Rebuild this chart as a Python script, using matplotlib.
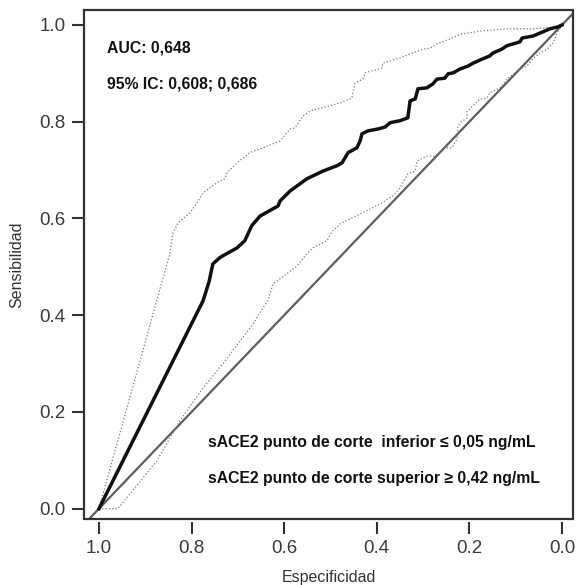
import matplotlib
matplotlib.use("Agg")
import matplotlib.pyplot as plt
from matplotlib.patches import Rectangle

plt.rcParams['font.family'] = ['Liberation Sans', 'DejaVu Sans']

# ROC curve (especificidad, sensibilidad)
roc_spec = [1.0, 0.775, 0.762, 0.754, 0.739, 0.732, 0.702, 0.685, 0.670, 0.652, 0.624, 0.613,
            0.609, 0.587, 0.551, 0.516, 0.486, 0.475, 0.462, 0.443, 0.436, 0.432, 0.419,
            0.397, 0.382, 0.371, 0.350, 0.333, 0.328, 0.317, 0.311, 0.292, 0.279, 0.270,
            0.253, 0.246, 0.235, 0.220, 0.203, 0.192, 0.171, 0.156, 0.149, 0.130, 0.119,
            0.091, 0.086, 0.063, 0.048, 0.026, 0.009, 0.0]
roc_sens = [0.0, 0.430, 0.470, 0.506, 0.519, 0.523, 0.539, 0.554, 0.585, 0.605, 0.620, 0.626,
            0.636, 0.657, 0.682, 0.698, 0.709, 0.715, 0.736, 0.746, 0.760, 0.775, 0.781,
            0.785, 0.789, 0.798, 0.802, 0.808, 0.843, 0.847, 0.868, 0.870, 0.878, 0.888,
            0.890, 0.899, 0.901, 0.909, 0.915, 0.921, 0.930, 0.936, 0.942, 0.950, 0.957,
            0.965, 0.973, 0.977, 0.983, 0.992, 0.996, 1.0]

# upper 95% CI
up_spec = [1.0, 0.847, 0.840, 0.829, 0.803, 0.788, 0.775, 0.745, 0.728, 0.724, 0.702,
           0.674, 0.646, 0.609, 0.587, 0.577, 0.559, 0.544, 0.501, 0.479, 0.454, 0.447,
           0.430, 0.425, 0.389, 0.387, 0.350, 0.328, 0.300, 0.285, 0.270, 0.242, 0.220,
           0.171, 0.119, 0.063, 0.009, 0.0]
up_sens = [0.0, 0.527, 0.570, 0.591, 0.612, 0.632, 0.653, 0.674, 0.682, 0.694, 0.715,
           0.736, 0.746, 0.760, 0.785, 0.787, 0.812, 0.822, 0.833, 0.839, 0.849, 0.880,
           0.888, 0.901, 0.911, 0.921, 0.932, 0.940, 0.950, 0.952, 0.961, 0.971, 0.981,
           0.988, 0.992, 0.992, 0.996, 1.0]

# lower 95% CI
lo_spec = [1.0, 0.959, 0.875, 0.825, 0.775, 0.732, 0.695, 0.667, 0.646, 0.635, 0.624,
           0.594, 0.572, 0.551, 0.538, 0.508, 0.495, 0.479, 0.458, 0.430, 0.393, 0.365,
           0.350, 0.333, 0.317, 0.313, 0.292, 0.274, 0.253, 0.238, 0.227, 0.225, 0.220,
           0.205, 0.205, 0.192, 0.177, 0.162, 0.156, 0.134, 0.119, 0.102, 0.091, 0.076,
           0.063, 0.048, 0.032, 0.019, 0.011, 0.0]
lo_sens = [0.0, 0.0, 0.099, 0.182, 0.250, 0.300, 0.347, 0.382, 0.415, 0.430, 0.465,
           0.486, 0.502, 0.527, 0.539, 0.554, 0.574, 0.589, 0.599, 0.612, 0.630, 0.647,
           0.663, 0.692, 0.698, 0.719, 0.729, 0.729, 0.746, 0.746, 0.764, 0.791, 0.798,
           0.808, 0.822, 0.833, 0.847, 0.849, 0.860, 0.870, 0.888, 0.901, 0.909, 0.915,
           0.930, 0.942, 0.950, 0.963, 0.983, 1.0]

ticks = [1.0, 0.8, 0.6, 0.4, 0.2, 0.0]
tick_labels = ["1.0", "0.8", "0.6", "0.4", "0.2", "0.0"]

fig = plt.figure(figsize=(5.76, 5.85), dpi=100)
ax = fig.add_axes([0.146, 0.113, 0.849, 0.870])

ax.axline((1.0, 0.0), (0.0, 1.0), color='#5e5e5e', lw=1.6, zorder=2)
ax.plot(up_spec, up_sens, color='#6f73aa', lw=0.9, ls=':', zorder=3)
ax.plot(lo_spec, lo_sens, color='#6f73aa', lw=0.9, ls=':', zorder=3)
ax.plot(roc_spec, roc_sens, color='#111111', lw=2.5, zorder=4, solid_joinstyle='round')

ax.set_xlim(1.032, -0.024)
ax.set_ylim(-0.021, 1.031)

ax.set_xticks(ticks)
ax.set_xticklabels(tick_labels)
ax.set_yticks(ticks)
ax.set_yticklabels(tick_labels)

# frame drawn separately, x ticks slightly detached from it
for s in ax.spines.values():
    s.set_visible(False)
ax.spines['bottom'].set_position(('outward', 2))
ax.add_patch(Rectangle((0, 0), 1, 1, transform=ax.transAxes, fill=False,
                       ec='#333333', lw=1.6, clip_on=False, zorder=5))

ax.tick_params(direction='out', length=8.3, width=1.5, color='#333333',
               labelsize=13.5, labelcolor='#3a3a3a', pad=5)

ax.set_xlabel("Especificidad", fontsize=11.5, color='#333333', labelpad=9.5)
ax.set_ylabel("Sensibilidad", fontsize=11.5, color='#333333', labelpad=11)

ax.text(0.047, 0.917, "AUC: 0,648", transform=ax.transAxes, fontsize=11.3,
        fontweight='bold', color='#111111', va='baseline')
ax.text(0.047, 0.845, "95% IC: 0,608; 0,686", transform=ax.transAxes, fontsize=11.3,
        fontweight='bold', color='#111111', va='baseline')
ax.text(0.254, 0.141, "sACE2 punto de corte  inferior \u2264 0,05 ng/mL",
        transform=ax.transAxes, fontsize=11.3, fontweight='bold', color='#111111',
        va='baseline')
ax.text(0.254, 0.070, "sACE2 punto de corte superior \u2265 0,42 ng/mL",
        transform=ax.transAxes, fontsize=11.3, fontweight='bold', color='#111111',
        va='baseline')

fig.savefig("out.png", dpi=100, facecolor='white')
